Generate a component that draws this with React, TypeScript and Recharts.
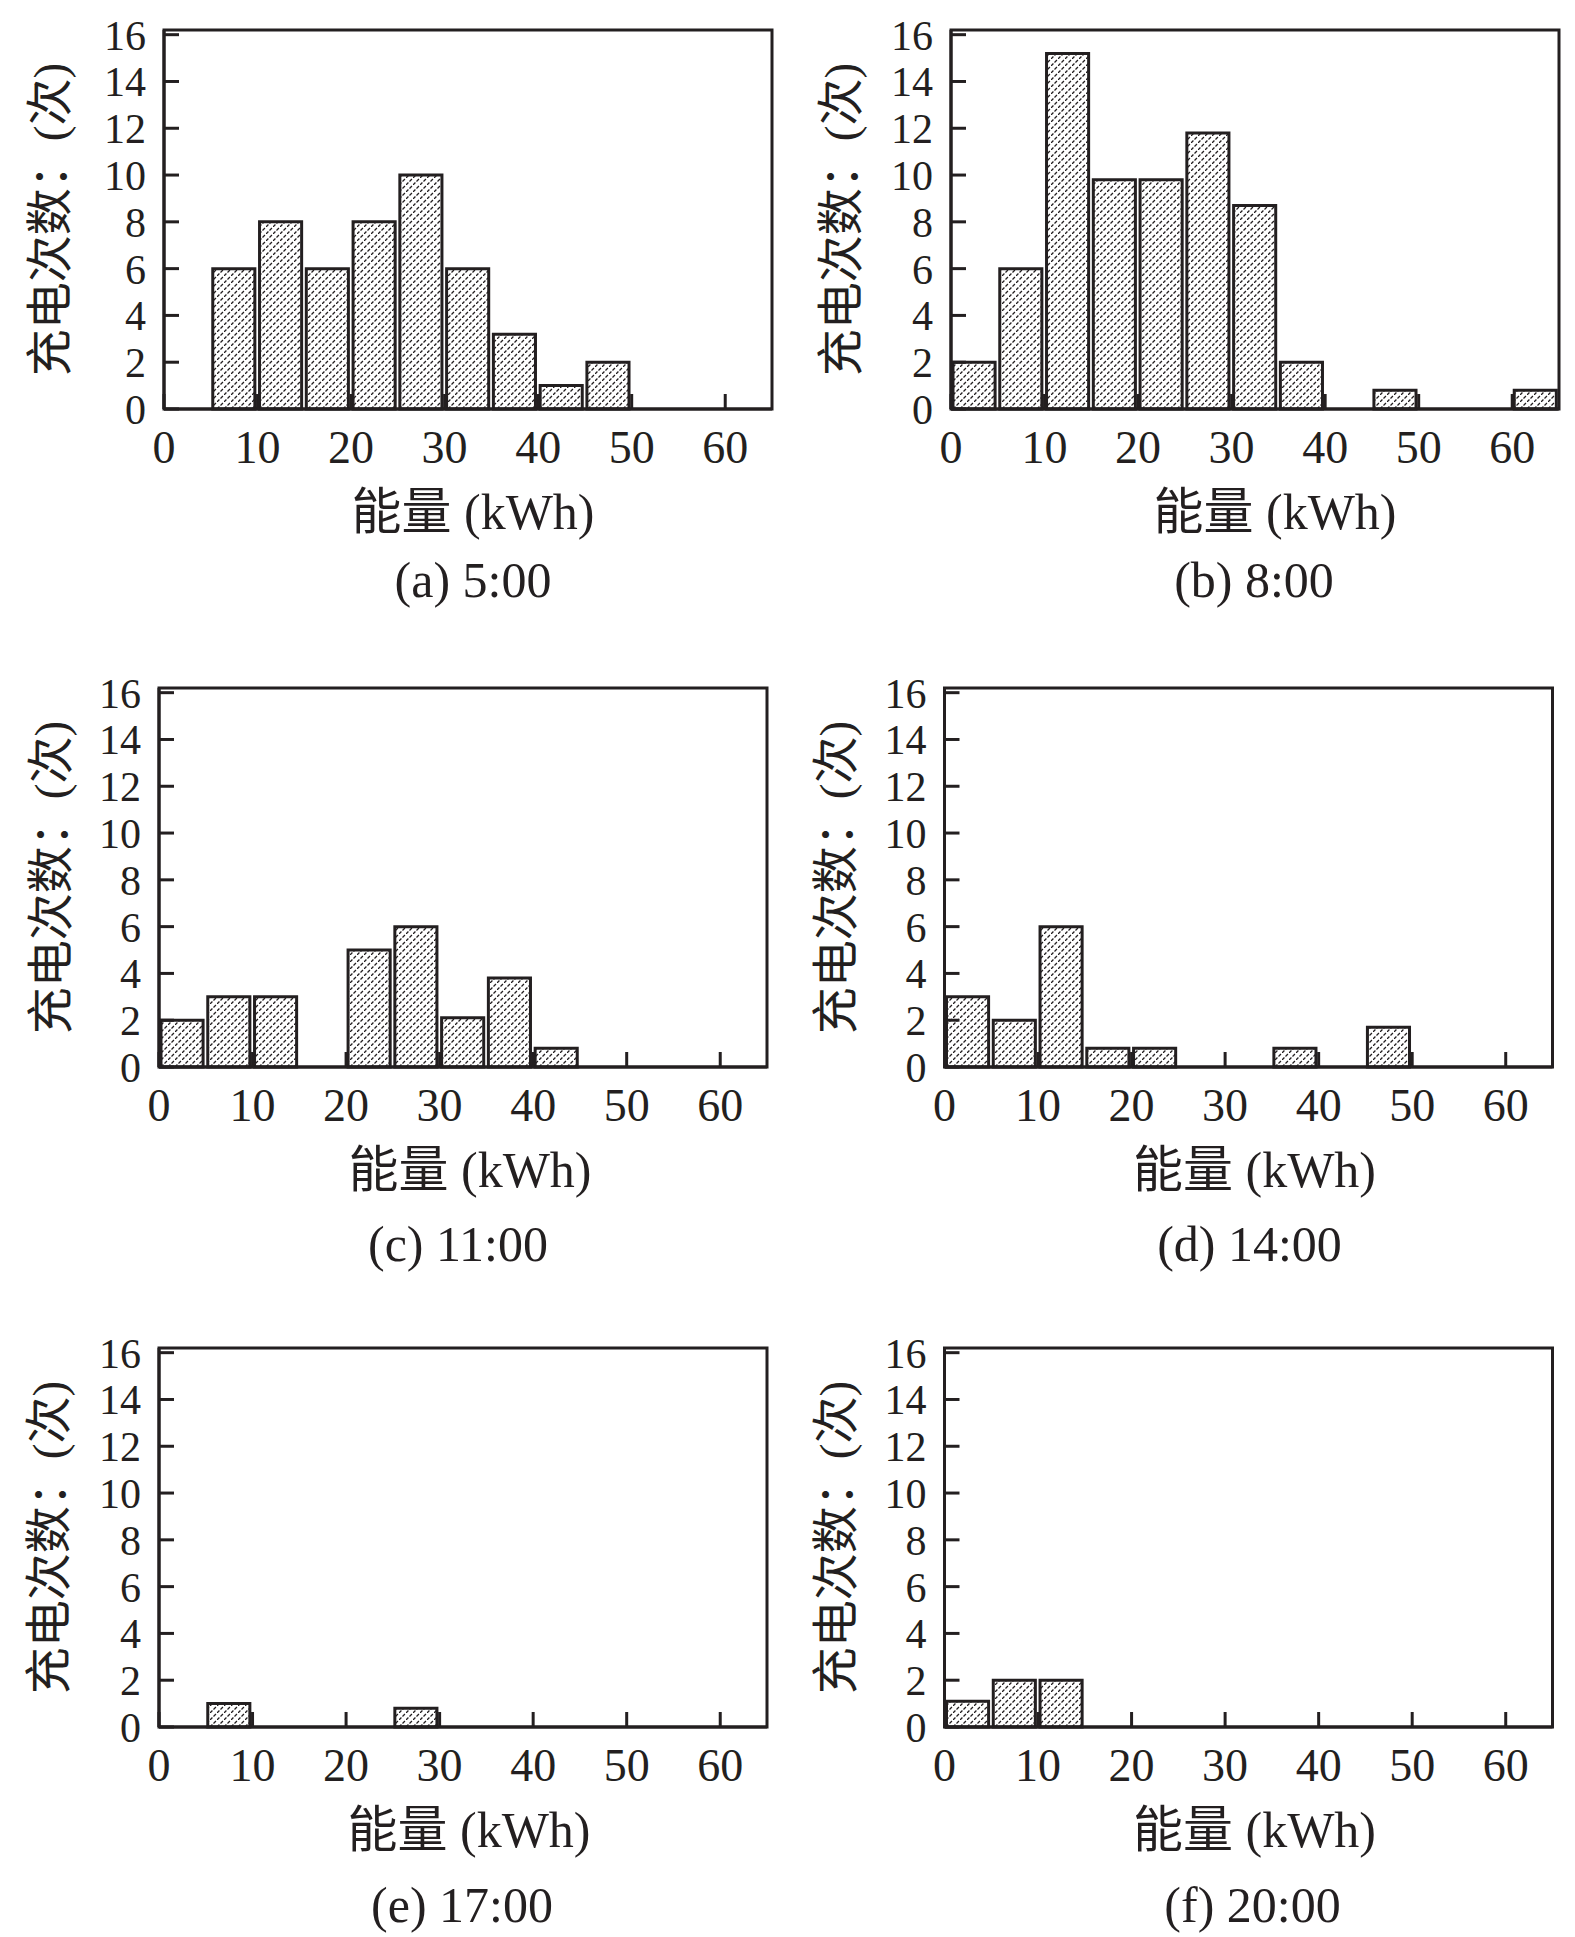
import React from "react";
import { BarChart, Bar, XAxis, YAxis, ReferenceArea, Label } from "recharts";

// histogram bins: 5 kWh wide, 0..65
const BIN_STARTS = [0, 5, 10, 15, 20, 25, 30, 35, 40, 45, 50, 55, 60];
const BIN_WIDTH = 5;
const X_TICKS = [0, 10, 20, 30, 40, 50, 60];
const Y_TICKS = [0, 2, 4, 6, 8, 10, 12, 14, 16];

// charging counts per bin
const COUNTS_0500 = [0, 6, 8, 6, 8, 10, 6, 3.2, 1, 2, 0, 0, 0];
const COUNTS_0800 = [2, 6, 15.2, 9.8, 9.8, 11.8, 8.7, 2, 0, 0.8, 0, 0, 0.8];
const COUNTS_1100 = [2, 3, 3, 0, 5, 6, 2.1, 3.8, 0.8, 0, 0, 0, 0];
const COUNTS_1400 = [3, 2, 6, 0.8, 0.8, 0, 0, 0.8, 0, 1.7, 0, 0, 0];
const COUNTS_1700 = [0, 1, 0, 0, 0, 0.8, 0, 0, 0, 0, 0, 0, 0];
const COUNTS_2000 = [1.1, 2, 2, 0, 0, 0, 0, 0, 0, 0, 0, 0, 0];

const X_LABEL = "能量 (kWh)";
const Y_LABEL = "充电次数：(次)";

const INK = "#231f20";
const FONT = "'Liberation Serif', 'Times New Roman', 'Noto Sans CJK SC', serif";

const CHART_W = 790;
const CHART_H = 610;
const PLOT_W = 608;
const PLOT_H = 379;
const TOP_M = 20;
const X_AXIS_H = 60;
const Y_MAX = 16.2;

const PANELS = [
  { key: "a", caption: "(a) 5:00", counts: COUNTS_0500, left: 0, top: 9.5, plotLeft: 164, yLabelX: 50, xLabelDx: 5, capDx: 5, capDy: 171 },
  { key: "b", caption: "(b) 8:00", counts: COUNTS_0800, left: 785, top: 9.5, plotLeft: 166, yLabelX: 56, xLabelDx: 20, capDx: -1, capDy: 171 },
  { key: "c", caption: "(c) 11:00", counts: COUNTS_1100, left: 0, top: 668, plotLeft: 159, yLabelX: 51, xLabelDx: 7, capDx: -5, capDy: 177 },
  { key: "d", caption: "(d) 14:00", counts: COUNTS_1400, left: 785, top: 668, plotLeft: 159.5, yLabelX: 51, xLabelDx: 6, capDx: 1, capDy: 177 },
  { key: "e", caption: "(e) 17:00", counts: COUNTS_1700, left: 0, top: 1327.5, plotLeft: 159, yLabelX: 49, xLabelDx: 6, capDx: -1, capDy: 178 },
  { key: "f", caption: "(f) 20:00", counts: COUNTS_2000, left: 785, top: 1327.5, plotLeft: 159.5, yLabelX: 51, xLabelDx: 6, capDx: 4, capDy: 178 },
];

const xTickStyle = { fontFamily: FONT, fontSize: 46, fill: INK };
const yTickStyle = { fontFamily: FONT, fontSize: 42, fill: INK };

const Panel = ({ p }: { p: (typeof PANELS)[number] }) => {
  const data = BIN_STARTS.map((s, i) => ({ mid: s + BIN_WIDTH / 2, count: p.counts[i] }));
  const axisBottom = TOP_M + PLOT_H;
  const centerX = p.plotLeft + PLOT_W / 2;
  const centerY = TOP_M + PLOT_H / 2;

  return (
    <div style={{ position: "absolute", left: p.left, top: p.top }}>
      <BarChart
        width={CHART_W}
        height={CHART_H}
        data={data}
        margin={{ top: TOP_M, right: CHART_W - p.plotLeft - PLOT_W, bottom: CHART_H - TOP_M - PLOT_H - X_AXIS_H, left: 0 }}
      >
        <defs>
          {/* dashed "////" hatching of the bars */}
          <pattern id={`hatch-${p.key}`} patternUnits="userSpaceOnUse" width={7} height={7}>
            <line x1={0} y1={7} x2={7} y2={0} stroke={INK} strokeWidth={1.3} strokeDasharray="3.45 1.5" />
          </pattern>
        </defs>
        <XAxis
          dataKey="mid"
          type="number"
          domain={[0, 65]}
          ticks={X_TICKS}
          interval={0}
          height={X_AXIS_H}
          tickSize={-15}
          tickMargin={36}
          tick={xTickStyle}
          axisLine={{ stroke: INK, strokeWidth: 3 }}
          tickLine={{ stroke: INK, strokeWidth: 3 }}
        >
          <Label
            content={() => (
              <text x={centerX + p.xLabelDx} y={axisBottom + 103} textAnchor="middle" dominantBaseline="central"
                fontFamily={FONT} fontSize={50} fill={INK}>
                {X_LABEL}
              </text>
            )}
          />
          <Label
            content={() => (
              <text x={centerX + p.capDx} y={axisBottom + p.capDy} textAnchor="middle" dominantBaseline="central"
                fontFamily={FONT} fontSize={50} fill={INK}>
                {p.caption}
              </text>
            )}
          />
        </XAxis>
        <YAxis
          type="number"
          domain={[0, Y_MAX]}
          ticks={Y_TICKS}
          interval={0}
          width={p.plotLeft}
          tickSize={-15}
          tickMargin={33}
          tick={yTickStyle}
          axisLine={{ stroke: INK, strokeWidth: 3 }}
          tickLine={{ stroke: INK, strokeWidth: 3 }}
        >
          <Label
            content={() => (
              <text x={p.yLabelX} y={centerY} transform={`rotate(-90, ${p.yLabelX}, ${centerY})`} textAnchor="middle"
                dominantBaseline="central" fontFamily={FONT} fontSize={47} fill={INK}>
                {Y_LABEL}
              </text>
            )}
          />
        </YAxis>
        <ReferenceArea x1={0} x2={65} y1={0} y2={Y_MAX} fill="none" stroke={INK} strokeWidth={3} ifOverflow="visible" />
        <Bar
          dataKey="count"
          barSize={PLOT_W / 13}
          fill={`url(#hatch-${p.key})`}
          stroke={INK}
          strokeWidth={3}
          isAnimationActive={false}
        />
      </BarChart>
    </div>
  );
};

export default function App() {
  return (
    <div style={{ position: "absolute", left: 0, top: 0, width: 1575, height: 1937, overflow: "hidden", background: "#fff" }}>
      {PANELS.map((p) => (
        <Panel key={p.key} p={p} />
      ))}
    </div>
  );
}
